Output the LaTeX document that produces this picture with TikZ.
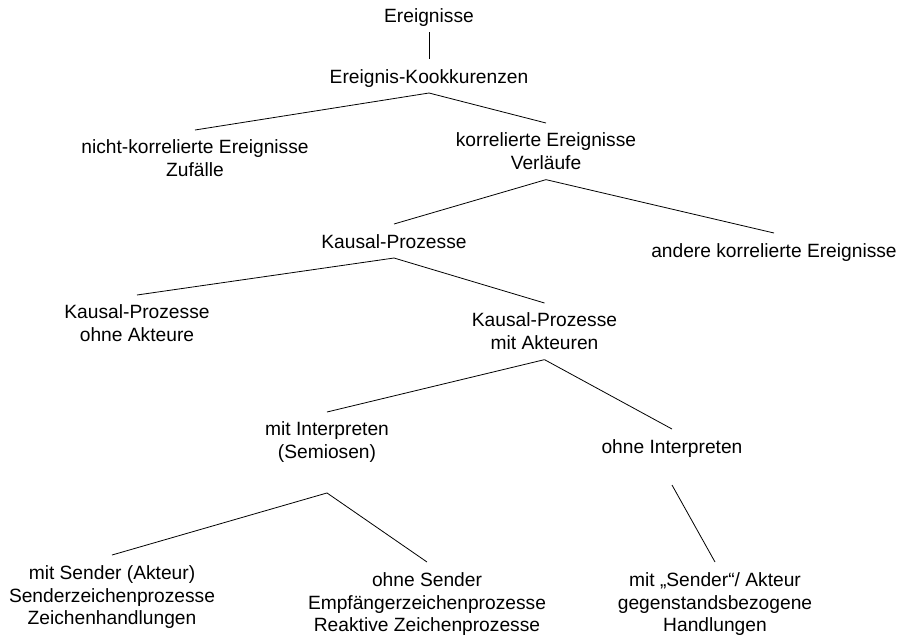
\documentclass[tikz,border=0pt]{standalone}
\usepackage{fontspec}
\setmainfont{Liberation Sans}

\begin{document}
\begin{tikzpicture}
[x=0.75pt, y=-0.75pt, line width=0.6pt,
every node/.style={font=\fontsize{14.4}{16.9}\selectfont, align=center,
  anchor=north, inner sep=0pt, inner ysep=7.5pt, outer sep=0pt},
one/.style={text height=10.5pt, text depth=0pt},
low/.style={inner ysep=8pt}]
\useasboundingbox (0,0) rectangle (901,637);

\node (ereig) at (429,-2) [one] {Ereignisse};
\node (kook) at (429,59) [one] {Ereignis-Kookkurenzen};
\node (zuf) at (195,130) {nicht-korrelierte Ereignisse\\Zufälle};
\node (verl) at (546,123) {korrelierte Ereignisse\\Verläufe};
\node (kaus) at (394,224) [one] {Kausal-Prozesse};
\node (andere) at (774,233) [one] {andere korrelierte Ereignisse};
\node (ohneak) at (137,295) {Kausal-Prozesse\\ohne Akteure};
\node (mitak) at (544.5,303) {Kausal-Prozesse\\mit Akteuren};
\node (interp) at (327,412) {mit Interpreten\\(Semiosen)};
\node (ohneint) at (672,429) [one] {ohne Interpreten};
\node (sender) at (112,555) [low] {mit Sender (Akteur)\\Senderzeichenprozesse\\Zeichenhandlungen};
\node (empf) at (427,562) [low] {ohne Sender\\Empfängerzeichenprozesse\\Reaktive Zeichenprozesse};
\node (gegen) at (715,562) [low] {mit „Sender“/ Akteur\\gegenstandsbezogene\\Handlungen};

\draw (ereig.south) edge (kook.north);
\draw (kook.south) edge (zuf.north);
\draw (kook.south) edge (verl.north);
\draw (verl.south) edge (kaus.north);
\draw (verl.south) edge (andere.north);
\draw (kaus.south) edge (ohneak.north);
\draw (kaus.south) edge (mitak.north);
\draw (mitak.south) edge (interp.north);
\draw (mitak.south) edge (ohneint.north);
\draw ([yshift=-15.4pt]interp.south) edge (sender.north);
\draw ([yshift=-15.4pt]interp.south) edge (empf.north);
\draw ([yshift=-16.5pt]ohneint.south) edge (gegen.north);

\end{tikzpicture}
\end{document}
